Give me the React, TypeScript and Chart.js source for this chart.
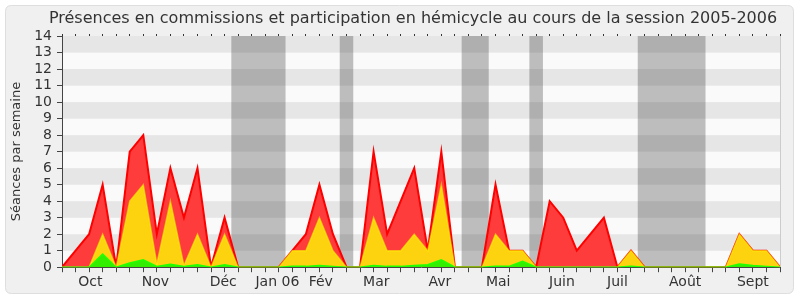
import React, { useEffect, useRef } from 'react';
import { Chart, registerables } from 'chart.js';

Chart.register(...registerables);

const TITLE = 'Présences en commissions et participation en hémicycle au cours de la session 2005-2006';
const Y_TITLE = 'Séances par semaine';
const FONT = '"DejaVu Sans", Verdana, sans-serif';

// week index 0..53 (one point per week)
const weeks = [
  0, 1, 2, 3, 4, 5, 6, 7, 8, 9, 10, 11, 12, 13, 14, 15, 16, 17, 18, 19, 20, 21, 22, 23, 24, 25, 26,
  27, 28, 29, 30, 31, 32, 33, 34, 35, 36, 37, 38, 39, 40, 41, 42, 43, 44, 45, 46, 47, 48, 49, 50, 51, 52, 53,
];

const redValues = [
  0, 1, 2, 5, 0, 7, 8, 2, 6, 3, 6, 0, 3, 0, 0, 0, 0, 1, 2, 5, 2, 0, 0, 7, 2, 4, 6,
  1, 7, 0, 0, 0, 5, 1, 1, 0, 4, 3, 1, 2, 3, 0, 1, 0, 0, 0, 0, 0, 0, 0, 2, 1, 1, 0,
];
const yellowValues = [
  0, 0, 0, 2, 0, 4, 5, 0.2, 4, 0.1, 2, 0, 2, 0, 0, 0, 0, 1, 1, 3, 1, 0, 0, 3, 1, 1, 2,
  1, 5, 0, 0, 0, 2, 1, 1, 0, 0, 0, 0, 0, 0, 0, 1, 0, 0, 0, 0, 0, 0, 0, 2, 1, 1, 0,
];
const greenValues = [
  0, 0, 0, 0.8, 0, 0.25, 0.45, 0.05, 0.18, 0.05, 0.15, 0, 0.15, 0, 0, 0, 0, 0.05, 0.05, 0.1, 0.05, 0, 0, 0.1, 0.05, 0.05, 0.1,
  0.15, 0.45, 0, 0, 0, 0.05, 0.05, 0.35, 0, 0, 0, 0, 0, 0, 0, 0.05, 0, 0, 0, 0, 0, 0, 0, 0.2, 0.1, 0.05, 0,
];

const monthLabels = ['Oct', 'Nov', 'Déc', 'Jan 06', 'Fév', 'Mar', 'Avr', 'Mai', 'Juin', 'Juil', 'Août', 'Sept'];
const monthPositions = [2.1, 6.9, 11.9, 15.9, 19.1, 23.2, 27.9, 32.2, 36.9, 41.0, 46.0, 51.0];

const vacationStarts = [12.5, 20.5, 29.5, 34.5, 42.5];
const vacationEnds = [16.5, 21.5, 31.5, 35.5, 47.5];

const Y_MAX = 14;

const backgroundPlugin = {
  id: 'background',
  beforeDraw(chart: any) {
    const { ctx, chartArea: a, scales } = chart;
    const x = scales.x;
    const y = scales.y;
    ctx.save();
    ctx.fillStyle = '#ffffff';
    ctx.fillRect(0, 0, chart.width, chart.height);
    // panel
    const px = 5.5, py = 5.5, pw = 788, ph = 288, r = 6;
    ctx.beginPath();
    ctx.moveTo(px + r, py);
    ctx.lineTo(px + pw - r, py);
    ctx.quadraticCurveTo(px + pw, py, px + pw, py + r);
    ctx.lineTo(px + pw, py + ph - r);
    ctx.quadraticCurveTo(px + pw, py + ph, px + pw - r, py + ph);
    ctx.lineTo(px + r, py + ph);
    ctx.quadraticCurveTo(px, py + ph, px, py + ph - r);
    ctx.lineTo(px, py + r);
    ctx.quadraticCurveTo(px, py, px + r, py);
    ctx.closePath();
    ctx.fillStyle = '#f0f0f0';
    ctx.fill();
    ctx.strokeStyle = '#dedede';
    ctx.lineWidth = 1;
    ctx.stroke();

    // horizontal stripes
    for (let k = 0; k < Y_MAX; k++) {
      const y0 = y.getPixelForValue(k + 1);
      const y1 = y.getPixelForValue(k);
      ctx.fillStyle = k % 2 === 1 ? '#e6e6e6' : '#fafafa';
      ctx.fillRect(a.left, y0, a.right - a.left, y1 - y0);
    }
    // vacation bands
    ctx.fillStyle = 'rgba(50,50,50,0.3)';
    for (let i = 0; i < vacationStarts.length; i++) {
      const x0 = x.getPixelForValue(vacationStarts[i]);
      const x1 = x.getPixelForValue(vacationEnds[i]);
      ctx.fillRect(x0, a.top, x1 - x0, a.bottom - a.top);
    }
    // right border
    ctx.strokeStyle = '#cccccc';
    ctx.beginPath();
    ctx.moveTo(a.right + 0.5, a.top);
    ctx.lineTo(a.right + 0.5, a.bottom);
    ctx.stroke();

    // title
    ctx.fillStyle = '#333333';
    ctx.font = '16px ' + FONT;
    ctx.textAlign = 'center';
    ctx.textBaseline = 'middle';
    ctx.fillText(TITLE, 413, 19);
    ctx.restore();
  },
};

export default function App() {
  const ref = useRef<HTMLCanvasElement | null>(null);
  useEffect(() => {
    if (!ref.current) return;
    const toPoints = (vals: number[]) => vals.map((v, i) => ({ x: weeks[i], y: v }));
    const chart = new Chart(ref.current, {
      type: 'line',
      data: {
        datasets: [
          {
            data: toPoints(redValues),
            borderColor: '#ff0000',
            backgroundColor: '#ff3c3c',
            fill: 'origin',
            borderWidth: 2,
            pointRadius: 0,
            tension: 0,
            order: 3,
          },
          {
            data: toPoints(yellowValues),
            borderColor: 'rgba(255,255,0,0.55)',
            backgroundColor: '#fdd20e',
            fill: 'origin',
            borderWidth: 1.5,
            pointRadius: 0,
            tension: 0,
            order: 2,
          },
          {
            data: toPoints(greenValues),
            borderColor: '#22ff00',
            backgroundColor: '#33ee00',
            fill: 'origin',
            borderWidth: 1.5,
            pointRadius: 0,
            tension: 0,
            order: 1,
          },
        ] as any,
      },
      options: {
        animation: false,
        responsive: false,
        maintainAspectRatio: false,
        layout: { padding: { left: 5, right: 20, top: 34, bottom: 7 } },
        plugins: {
          legend: { display: false },
          tooltip: { enabled: false },
          title: { display: false },
        },
        scales: {
          x: {
            type: 'linear',
            position: 'bottom',
            min: 0,
            max: 53,
            ticks: { display: false, stepSize: 1 },
            grid: { drawOnChartArea: false, tickLength: 5, color: '#444444' },
            border: { display: true, color: '#444444' },
          },
          x2: {
            type: 'linear',
            position: 'bottom',
            weight: 1,
            min: 0,
            max: 53,
            afterBuildTicks: (s: any) => {
              s.ticks = monthPositions.map((v) => ({ value: v }));
            },
            ticks: {
              autoSkip: false,
              maxRotation: 0,
              padding: 2,
              color: '#333333',
              font: { family: FONT, size: 14 },
              callback: (_v: any, i: number) => monthLabels[i],
            },
            grid: { display: false, drawTicks: false, tickLength: 0 },
            border: { display: false },
          },
          xt: {
            type: 'linear',
            position: 'top',
            min: 0,
            max: 53,
            ticks: { display: false, stepSize: 1 },
            grid: { drawOnChartArea: false, tickLength: 2, color: '#333333' },
            border: { display: false },
          },
          y: {
            min: 0,
            max: Y_MAX,
            ticks: {
              stepSize: 1,
              autoSkip: false,
              padding: 5,
              color: '#333333',
              font: { family: FONT, size: 14 },
            },
            grid: { drawOnChartArea: false, tickLength: 5, color: '#444444' },
            border: { display: true, color: '#444444' },
            title: {
              display: true,
              text: Y_TITLE,
              color: '#333333',
              font: { family: FONT, size: 13 },
              padding: { top: 4, bottom: 0 },
            },
            afterFit: (s: any) => {
              s.width = 57;
            },
          },
        } as any,
      },
      plugins: [backgroundPlugin],
    });
    return () => chart.destroy();
  }, []);
  return (
    <div style={{ position: 'absolute', left: 0, top: 0, width: 800, height: 300 }}>
      <canvas ref={ref} width={800} height={300} style={{ display: 'block' }} />
    </div>
  );
}
